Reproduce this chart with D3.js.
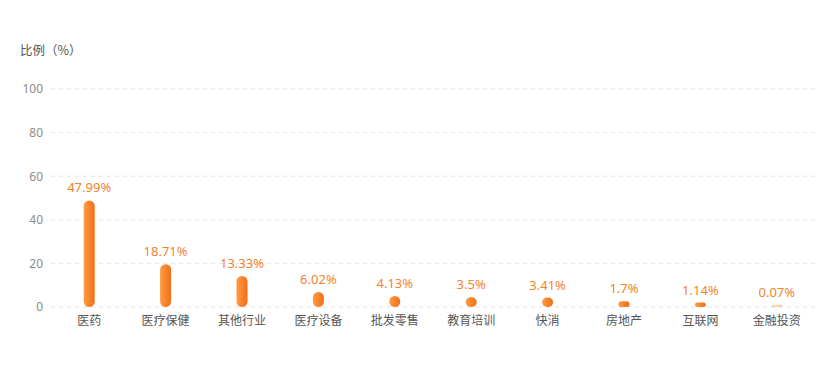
<!DOCTYPE html>
<html>
<head>
<meta charset="utf-8">
<script src="https://cdn.jsdelivr.net/npm/d3@7"></script>
<style>
  body { margin: 0; background: #fff; }
  text { font-family: "Noto Sans CJK SC", "Noto Sans", sans-serif; }
</style>
</head>
<body>
<div id="chart"></div>
<script>
// data
var categories = ["医药", "医疗保健", "其他行业", "医疗设备", "批发零售", "教育培训", "快消", "房地产", "互联网", "金融投资"];
var values = [47.99, 18.71, 13.33, 6.02, 4.13, 3.5, 3.41, 1.7, 1.14, 0.07];
var yTicks = [0, 20, 40, 60, 80, 100];

var width = 835, height = 389;
var margin = {top: 89, right: 20, bottom: 82, left: 51};

var svg = d3.select("#chart").append("svg")
    .attr("width", width)
    .attr("height", height);

var defs = svg.append("defs");
var grad = defs.append("linearGradient")
    .attr("id", "barGrad")
    .attr("x1", "0%").attr("x2", "100%").attr("y1", "0%").attr("y2", "0%");
grad.append("stop").attr("offset", "0%").attr("stop-color", "#ff9b45");
grad.append("stop").attr("offset", "100%").attr("stop-color", "#f26f17");

var x = d3.scaleBand()
    .domain(categories)
    .range([margin.left, width - margin.right]);

var y = d3.scaleLinear()
    .domain([0, 100])
    .range([height - margin.bottom, margin.top]);

// grid lines
svg.append("g")
  .selectAll("line")
  .data(yTicks)
  .enter()
  .append("line")
    .attr("x1", margin.left)
    .attr("x2", width - margin.right)
    .attr("y1", function(d){ return y(d); })
    .attr("y2", function(d){ return y(d); })
    .attr("stroke", "#e3e3e3")
    .attr("stroke-dasharray", "4,4");

// y axis labels
var yAxis = d3.axisLeft(y).tickValues(yTicks).tickSize(0).tickPadding(8);
var gy = svg.append("g")
    .attr("transform", "translate(" + margin.left + ",0)")
    .call(yAxis);
gy.select(".domain").remove();
gy.selectAll("text")
    .attr("fill", "#8c8c8c")
    .style("font-size", "12px")
    .style("font-family", "'Noto Sans', sans-serif");

// x axis labels
var xAxis = d3.axisBottom(x).tickSize(0).tickPadding(9);
var gx = svg.append("g")
    .attr("transform", "translate(0," + y(0) + ")")
    .call(xAxis);
gx.select(".domain").remove();
gx.selectAll("text")
    .attr("fill", "#555")
    .style("font-size", "12px");

// unit title
svg.append("text")
    .attr("x", 20)
    .attr("y", 55)
    .attr("fill", "#555")
    .style("font-size", "12.5px")
    .text("比例（%）");

// bars as pills
var barW = 11;
var data = categories.map(function(c, i){ return {name: c, value: values[i]}; });

svg.append("g")
  .selectAll("rect")
  .data(data)
  .enter()
  .append("rect")
    .attr("x", function(d){ return x(d.name) + x.bandwidth() / 2 - barW / 2; })
    .attr("width", barW)
    .attr("y", function(d){ return y(d.value) - 2; })
    .attr("height", function(d){ return y(0) - y(d.value) + 2; })
    .attr("rx", function(d){ return Math.min(barW / 2, (y(0) - y(d.value) + 2) / 2); })
    .attr("fill", "url(#barGrad)")
    .attr("opacity", function(d){ return d.value < 0.5 ? 0.35 : 1; });

// value labels
svg.append("g")
  .selectAll("text")
  .data(data)
  .enter()
  .append("text")
    .attr("x", function(d){ return x(d.name) + x.bandwidth() / 2; })
    .attr("y", function(d){ return y(d.value) - 10; })
    .attr("text-anchor", "middle")
    .attr("fill", "#f5832b")
    .style("font-size", "13px")
    .style("font-family", "'Noto Sans', sans-serif")
    .text(function(d){ return d.value + "%"; });
</script>
</body>
</html>
